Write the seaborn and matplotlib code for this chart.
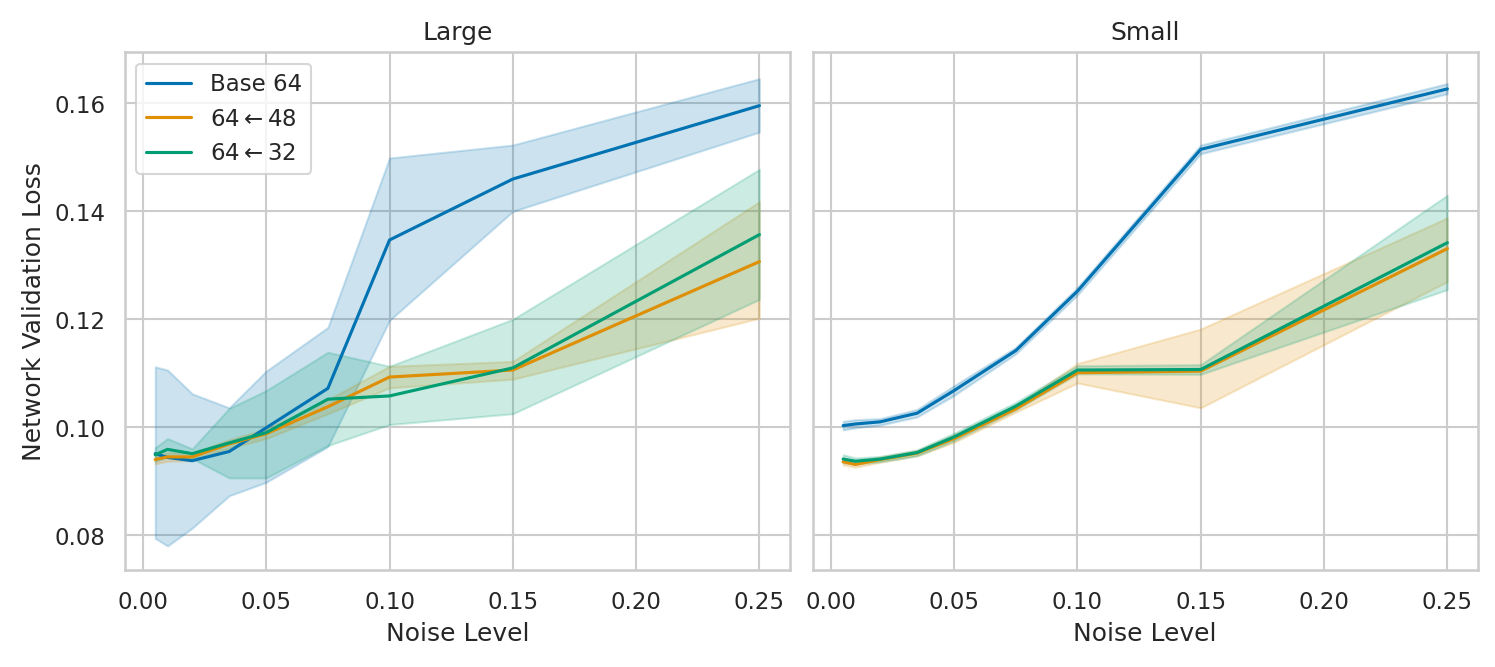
import numpy as np
import pandas as pd
import matplotlib
matplotlib.use("Agg")
import matplotlib.pyplot as plt
import seaborn as sns

noise = [0.005, 0.01, 0.02, 0.035, 0.05, 0.075, 0.10, 0.15, 0.25]
models = ["Base 64", r"64$\leftarrow$48", r"64$\leftarrow$32"]
panels = ["Large", "Small"]

# Large panel: mean, lower band, upper band
large_base_mean = [0.0951, 0.0944, 0.0938, 0.0955, 0.0999, 0.1072, 0.1347, 0.1460, 0.1596]
large_base_lo   = [0.0794, 0.0780, 0.0813, 0.0873, 0.0898, 0.0964, 0.1198, 0.1400, 0.1547]
large_base_hi   = [0.1112, 0.1106, 0.1062, 0.1036, 0.1104, 0.1185, 0.1499, 0.1523, 0.1646]

large_48_mean = [0.0940, 0.0945, 0.0945, 0.0969, 0.0988, 0.1038, 0.1093, 0.1106, 0.1307]
large_48_lo   = [0.0932, 0.0937, 0.0938, 0.0961, 0.0979, 0.1025, 0.1073, 0.1089, 0.1202]
large_48_hi   = [0.0948, 0.0953, 0.0952, 0.0977, 0.0997, 0.1051, 0.1113, 0.1122, 0.1418]

large_32_mean = [0.0949, 0.0959, 0.0951, 0.0971, 0.0990, 0.1052, 0.1058, 0.1110, 0.1357]
large_32_lo   = [0.0937, 0.0945, 0.0942, 0.0906, 0.0906, 0.0966, 0.1005, 0.1025, 0.1237]
large_32_hi   = [0.0962, 0.0979, 0.0960, 0.1035, 0.1068, 0.1139, 0.1113, 0.1200, 0.1478]

# Small panel
small_base_mean = [0.1003, 0.1006, 0.1010, 0.1026, 0.1068, 0.1142, 0.1252, 0.1515, 0.1627]
small_base_lo   = [0.0995, 0.0999, 0.1004, 0.1019, 0.1059, 0.1136, 0.1245, 0.1507, 0.1618]
small_base_hi   = [0.1011, 0.1014, 0.1016, 0.1033, 0.1077, 0.1148, 0.1259, 0.1523, 0.1637]

small_48_mean = [0.0936, 0.0931, 0.0940, 0.0952, 0.0979, 0.1034, 0.1101, 0.1104, 0.1331]
small_48_lo   = [0.0930, 0.0926, 0.0935, 0.0947, 0.0972, 0.1028, 0.1082, 0.1036, 0.1270]
small_48_hi   = [0.0942, 0.0936, 0.0945, 0.0957, 0.0986, 0.1040, 0.1118, 0.1182, 0.1388]

small_32_mean = [0.0941, 0.0937, 0.0941, 0.0953, 0.0982, 0.1039, 0.1106, 0.1107, 0.1342]
small_32_lo   = [0.0934, 0.0932, 0.0936, 0.0947, 0.0975, 0.1032, 0.1099, 0.1098, 0.1255]
small_32_hi   = [0.0949, 0.0943, 0.0946, 0.0958, 0.0989, 0.1046, 0.1114, 0.1116, 0.1430]

series = {
    "Large": {
        models[0]: (large_base_mean, large_base_lo, large_base_hi),
        models[1]: (large_48_mean, large_48_lo, large_48_hi),
        models[2]: (large_32_mean, large_32_lo, large_32_hi),
    },
    "Small": {
        models[0]: (small_base_mean, small_base_lo, small_base_hi),
        models[1]: (small_48_mean, small_48_lo, small_48_hi),
        models[2]: (small_32_mean, small_32_lo, small_32_hi),
    },
}

rows = []
for p in panels:
    for m in models:
        mean, lo, hi = series[p][m]
        for x, v, l, h in zip(noise, mean, lo, hi):
            rows.append(dict(panel=p, model=m, noise=x, loss=v, lo=l, hi=h))
df = pd.DataFrame(rows)

sns.set_theme(style="whitegrid", context="notebook")
plt.rcParams['font.family'] = ['DejaVu Sans']
plt.rcParams['mathtext.fontset'] = 'dejavusans'
palette = sns.color_palette("colorblind", 3)
colors = dict(zip(models, palette))

fig, axes = plt.subplots(1, 2, figsize=(9.97, 4.45), dpi=150, sharey=True)
for ax, p in zip(axes, panels):
    sub = df[df.panel == p]
    sns.lineplot(data=sub, x="noise", y="loss", hue="model", hue_order=models,
                 palette=colors, errorbar=None, ax=ax, legend=(p == "Large"))
    for m in models:
        s = sub[sub.model == m]
        ax.fill_between(s.noise, s.lo, s.hi, color=colors[m], alpha=0.2)
    ax.set_title(p, fontsize=12)
    ax.set_xlabel("Noise Level")
    ax.set_ylabel("Network Validation Loss")
    ax.set_xticks([0.0, 0.05, 0.10, 0.15, 0.20, 0.25])
    ax.set_xticklabels(["0.00", "0.05", "0.10", "0.15", "0.20", "0.25"])

axes[0].set_yticks([0.08, 0.10, 0.12, 0.14, 0.16])
axes[0].set_yticklabels(["0.08", "0.10", "0.12", "0.14", "0.16"])
axes[0].set_ylim(0.0735, 0.1695)
axes[1].set_ylabel("")
leg = axes[0].legend(loc="upper left", title=None)

fig.subplots_adjust(left=0.0836, right=0.988, bottom=0.145, top=0.921, wspace=0.035)
fig.savefig("out.png", dpi=150)
